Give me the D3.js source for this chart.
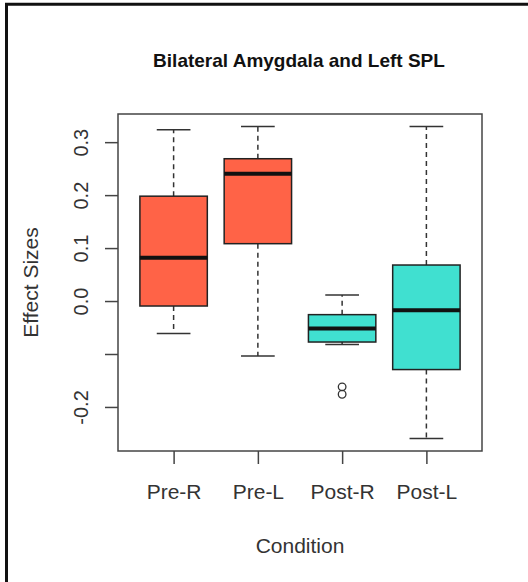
<!DOCTYPE html>
<html>
<head>
<meta charset="utf-8">
<script src="https://cdn.jsdelivr.net/npm/d3@7"></script>
<style>
  html, body { margin: 0; padding: 0; background: #fff; }
  svg { display: block; font-family: "Liberation Sans", Arial, sans-serif; }
</style>
</head>
<body>
<svg id="chart" width="528" height="582"></svg>
<script>
// Five-number summaries per condition
const categories = ["Pre-R", "Pre-L", "Post-R", "Post-L"];
const phase = ["Pre", "Pre", "Post", "Post"];
const whiskerLow = [-0.0615, -0.1038, -0.0823, -0.2596];
const q1 = [-0.0094, 0.1083, -0.0774, -0.1294];
const median = [0.0819, 0.2404, -0.0520, -0.0175];
const q3 = [0.1980, 0.2687, -0.0257, 0.0680];
const whiskerHigh = [0.3234, 0.3296, 0.0113, 0.3296];
const outliers = [[], [], [-0.162, -0.176], []];

// Y axis ticks and labels (the -0.1 label is dropped, as the plotting device did)
const yTicks = [-0.2, -0.1, 0.0, 0.1, 0.2, 0.3];
const yTickLabels = ["-0.2", "", "0.0", "0.1", "0.2", "0.3"];

const title = "Bilateral Amygdala and Left SPL";
const xTitle = "Condition";
const yTitle = "Effect Sizes";

const svg = d3.select("#chart");
const box = { left: 118, right: 482, top: 114, bottom: 451 };

// Outer figure frame
svg.append("path")
  .attr("d", `M6.5,590 L6.5,4.2 L540,4.2`)
  .attr("fill", "none")
  .attr("stroke", "#111")
  .attr("stroke-width", 3);

// y domain: data range padded by 4% on each side
const allVals = whiskerLow.concat(whiskerHigh, outliers.flat());
const lo = d3.min(allVals), hi = d3.max(allVals);
const pad = (hi - lo) * 0.04;
const y = d3.scaleLinear().domain([lo - pad, hi + pad]).range([box.bottom, box.top]);

const x = d3.scalePoint().domain(categories).range([box.left, box.right]).padding(0.66);
const step = x.step();
const boxW = step * 0.8;
const capW = step * 0.4;

const color = d3.scaleOrdinal().domain(["Pre", "Post"]).range(["#FF6347", "#40E0D0"]);

const rows = categories.map((c, i) => ({
  c, phase: phase[i], lo: whiskerLow[i], q1: q1[i], med: median[i],
  q3: q3[i], hi: whiskerHigh[i], out: outliers[i]
}));

const g = svg.append("g");

// Whiskers (dashed)
g.selectAll(".wh-up").data(rows).join("line")
  .attr("x1", d => x(d.c)).attr("x2", d => x(d.c))
  .attr("y1", d => y(d.q3)).attr("y2", d => y(d.hi))
  .attr("stroke", "#333").attr("stroke-width", 1.5).attr("stroke-dasharray", "5,4");
g.selectAll(".wh-dn").data(rows).join("line")
  .attr("x1", d => x(d.c)).attr("x2", d => x(d.c))
  .attr("y1", d => y(d.q1)).attr("y2", d => y(d.lo))
  .attr("stroke", "#333").attr("stroke-width", 1.5).attr("stroke-dasharray", "5,4");

// Staples
g.selectAll(".cap-up").data(rows).join("line")
  .attr("x1", d => x(d.c) - capW / 2).attr("x2", d => x(d.c) + capW / 2)
  .attr("y1", d => y(d.hi)).attr("y2", d => y(d.hi))
  .attr("stroke", "#333").attr("stroke-width", 1.5);
g.selectAll(".cap-dn").data(rows).join("line")
  .attr("x1", d => x(d.c) - capW / 2).attr("x2", d => x(d.c) + capW / 2)
  .attr("y1", d => y(d.lo)).attr("y2", d => y(d.lo))
  .attr("stroke", "#333").attr("stroke-width", 1.5);

// Boxes
g.selectAll(".box").data(rows).join("rect")
  .attr("x", d => x(d.c) - boxW / 2)
  .attr("width", boxW)
  .attr("y", d => y(d.q3))
  .attr("height", d => y(d.q1) - y(d.q3))
  .attr("fill", d => color(d.phase))
  .attr("stroke", "#222").attr("stroke-width", 1.5);

// Medians
g.selectAll(".med").data(rows).join("line")
  .attr("x1", d => x(d.c) - boxW / 2).attr("x2", d => x(d.c) + boxW / 2)
  .attr("y1", d => y(d.med)).attr("y2", d => y(d.med))
  .attr("stroke", "#111").attr("stroke-width", 4);

// Outliers
g.selectAll(".out").data(rows.flatMap(d => d.out.map(v => ({ c: d.c, v }))))
  .join("circle")
  .attr("cx", d => x(d.c)).attr("cy", d => y(d.v)).attr("r", 3.8)
  .attr("fill", "none").attr("stroke", "#333").attr("stroke-width", 1.3);

// Plot border
svg.append("rect")
  .attr("x", box.left).attr("y", box.top)
  .attr("width", box.right - box.left).attr("height", box.bottom - box.top)
  .attr("fill", "none").attr("stroke", "#444").attr("stroke-width", 1.5);

// Left axis
const yAxis = svg.append("g")
  .attr("transform", `translate(${box.left},0)`)
  .call(d3.axisLeft(y).tickValues(yTicks).tickSize(13)
    .tickFormat((d, i) => yTickLabels[i]));
yAxis.select(".domain").remove();
yAxis.selectAll(".tick line").attr("stroke", "#444").attr("stroke-width", 1.5);
yAxis.selectAll(".tick text")
  .attr("x", null).attr("dy", null)
  .attr("transform", "translate(-30,0) rotate(-90)")
  .attr("text-anchor", "middle")
  .attr("fill", "#333")
  .style("font-size", "20px")
  .style("font-family", "'Liberation Sans', Arial, sans-serif");

// Bottom axis
const xAxis = svg.append("g")
  .attr("transform", `translate(0,${box.bottom})`)
  .call(d3.axisBottom(x).tickSize(13).tickPadding(0));
xAxis.select(".domain").remove();
xAxis.selectAll(".tick line").attr("stroke", "#444").attr("stroke-width", 1.5);
xAxis.selectAll(".tick text")
  .attr("y", 48).attr("dy", null)
  .attr("fill", "#333")
  .style("font-size", "21px")
  .style("font-family", "'Liberation Sans', Arial, sans-serif");

// Titles
const cx = (box.left + box.right) / 2;
svg.append("text")
  .attr("x", cx - 1).attr("y", 67)
  .attr("text-anchor", "middle")
  .attr("font-weight", "bold")
  .attr("font-size", 19)
  .attr("fill", "#111")
  .text(title);

svg.append("text")
  .attr("x", cx).attr("y", 553)
  .attr("text-anchor", "middle")
  .attr("font-size", 21)
  .attr("fill", "#333")
  .text(xTitle);

svg.append("text")
  .attr("transform", `translate(38,${(box.top + box.bottom) / 2}) rotate(-90)`)
  .attr("text-anchor", "middle")
  .attr("font-size", 21)
  .attr("fill", "#333")
  .text(yTitle);
</script>
</body>
</html>
